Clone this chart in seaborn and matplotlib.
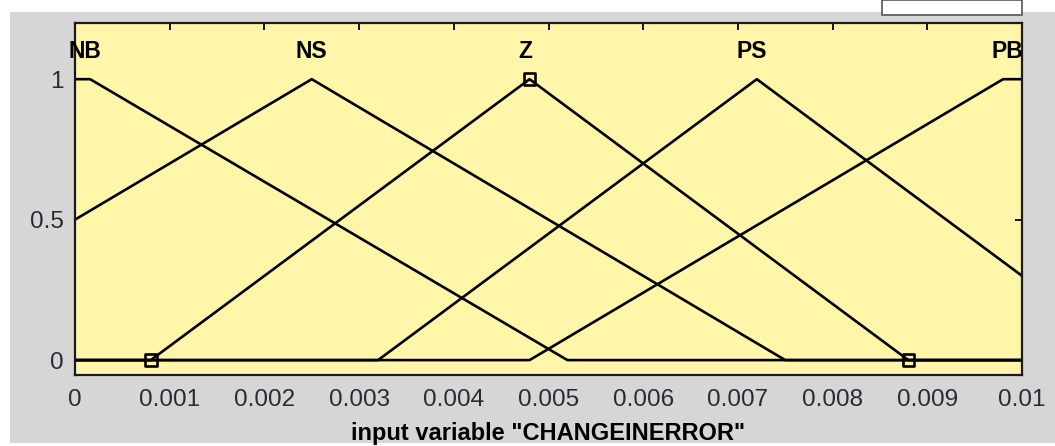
import matplotlib
matplotlib.use("Agg")
import matplotlib.pyplot as plt
from matplotlib.patches import Rectangle
import seaborn as sns
import pandas as pd

# ---- data ----
mf_names = ["NB", "NS", "Z", "PS", "PB"]
nb_x = [0.0, 0.00016, 0.0052, 0.01]
nb_y = [1.0, 1.0, 0.0, 0.0]
ns_x = [0.0, 0.0025, 0.0075, 0.01]
ns_y = [0.5, 1.0, 0.0, 0.0]
z_x = [0.0, 0.0008, 0.0048, 0.0088, 0.01]
z_y = [0.0, 0.0, 1.0, 0.0, 0.0]
ps_x = [0.0, 0.0032, 0.0072, 0.01]
ps_y = [0.0, 0.0, 1.0, 0.3]
pb_x = [0.0, 0.0048, 0.0098, 0.01]
pb_y = [0.0, 0.0, 1.0, 1.0]
label_x = [0.0001, 0.0025, 0.00475, 0.00715, 0.00985]
label_y = [1.1, 1.1, 1.1, 1.1, 1.1]
sel_x = [0.0008, 0.0048, 0.0088]
sel_y = [0.0, 1.0, 0.0]
xticks = [0.0, 0.001, 0.002, 0.003, 0.004, 0.005, 0.006, 0.007, 0.008, 0.009, 0.01]
xticklabels = ["0", "0.001", "0.002", "0.003", "0.004", "0.005", "0.006",
               "0.007", "0.008", "0.009", "0.01"]
yticks = [0.0, 0.5, 1.0]
yticklabels = ["0", "0.5", "1"]
xlabel = 'input variable "CHANGEINERROR"'

series_x = [nb_x, ns_x, z_x, ps_x, pb_x]
series_y = [nb_y, ns_y, z_y, ps_y, pb_y]
rows = []
for name, xs, ys in zip(mf_names, series_x, series_y):
    for xv, yv in zip(xs, ys):
        rows.append({"mf": name, "x": xv, "y": yv})
df = pd.DataFrame(rows)
sel = pd.DataFrame({"x": sel_x, "y": sel_y})

sns.set_style("white")
plt.rcParams["font.family"] = ["Liberation Sans", "DejaVu Sans"]

W, H = 1055, 446
fig = plt.figure(figsize=(W / 100, H / 100), dpi=100, facecolor="white")

# grey window background
fig.patches.append(Rectangle((10 / W, (H - 443) / H), (W - 10) / W, (443 - 12) / H,
                             transform=fig.transFigure, facecolor="#d6d6d6",
                             edgecolor="none", zorder=-10))
# small white UI box at the top right
fig.patches.append(Rectangle((882 / W, (H - 15) / H), (1022 - 882) / W, 15 / H,
                             transform=fig.transFigure, facecolor="white",
                             edgecolor="#555555", linewidth=1.2, zorder=-5))

left, right, top, bottom = 75, 1022, 23, 375
ax = fig.add_axes([left / W, (H - bottom) / H, (right - left) / W, (bottom - top) / H])
ax.set_zorder(1)
ax.set_facecolor("#fff6a9")

sns.lineplot(data=df, x="x", y="y", units="mf", estimator=None, sort=False,
             color="black", linewidth=1.9, ax=ax, legend=False)
sns.scatterplot(data=sel, x="x", y="y", marker="s", s=70, facecolor="none",
                edgecolor="black", linewidth=1.9, ax=ax, legend=False, zorder=5)

for name, lx, ly in zip(mf_names, label_x, label_y):
    ax.text(lx, ly, name, ha="center", va="center", fontsize=16.5,
            fontweight="bold", color="black")

ax.set_xlim(0, 0.01)
ax.set_ylim(-0.053, 1.2)
ax.set_xticks(xticks)
ax.set_xticklabels(xticklabels)
ax.set_yticks(yticks)
ax.set_yticklabels(yticklabels)
ax.tick_params(axis="both", direction="in", length=5, width=1.3, color="black",
               top=True, right=True, labelsize=17.5, labelcolor="#2a2a36")
ax.tick_params(axis="x", pad=10)
ax.tick_params(axis="y", pad=8)
ax.set_xlabel(xlabel, fontsize=17, fontweight="bold", color="black", labelpad=8)
ax.set_ylabel("")
for sp in ax.spines.values():
    sp.set_visible(True)
    sp.set_color("#1a1a1a")
    sp.set_linewidth(1.6)

fig.savefig("out.png", dpi=100, facecolor="white")
